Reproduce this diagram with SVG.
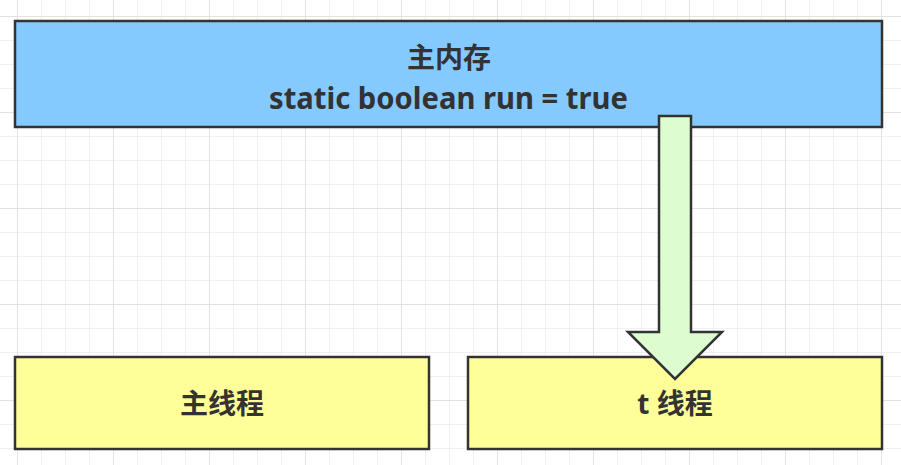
<svg xmlns="http://www.w3.org/2000/svg" width="901" height="465" viewBox="0 0 901 465">
<defs>
<pattern id="minor" width="24" height="24" patternUnits="userSpaceOnUse" x="17" y="16">
<path d="M0 0H24M0 0V24" fill="none" stroke="#ebebeb" stroke-width="1.5"/>
</pattern>
<pattern id="major" width="96" height="96" patternUnits="userSpaceOnUse" x="17" y="16">
<path d="M0 0H96M0 0V96" fill="none" stroke="#dedede" stroke-width="1.5"/>
</pattern>
</defs>
<style>
.box{stroke:#333;stroke-width:2.5}
.t{font-family:"Noto Sans","Noto Sans CJK SC",sans-serif;font-weight:bold;fill:#333;text-anchor:middle}
</style>
<rect width="901" height="465" fill="#fff"/>
<rect width="901" height="465" fill="url(#minor)"/>
<rect width="901" height="465" fill="url(#major)"/>
<g id="main-memory">
<rect class="box" x="15" y="21" width="867" height="106" fill="#85caff"/>
<text class="t" x="449" y="68" font-size="28">主内存</text>
<text class="t" x="448.5" y="109" font-size="30" textLength="359" lengthAdjust="spacingAndGlyphs">static boolean run = true</text>
</g>
<g id="main-thread">
<rect class="box" x="15" y="357" width="414" height="92" fill="#ffff99"/>
<text class="t" x="222" y="414" font-size="28">主线程</text>
</g>
<g id="t-thread">
<rect class="box" x="468" y="357" width="414" height="92" fill="#ffff99"/>
<text class="t" x="675" y="414" font-size="28">t 线程</text>
</g>
<g id="connectors">
<polygon points="659,116 691,116 691,332 722,332 675,379 628,332 659,332" fill="#ddfdd0" stroke="#333" stroke-width="2.5" stroke-linejoin="miter"/>
</g>
</svg>
